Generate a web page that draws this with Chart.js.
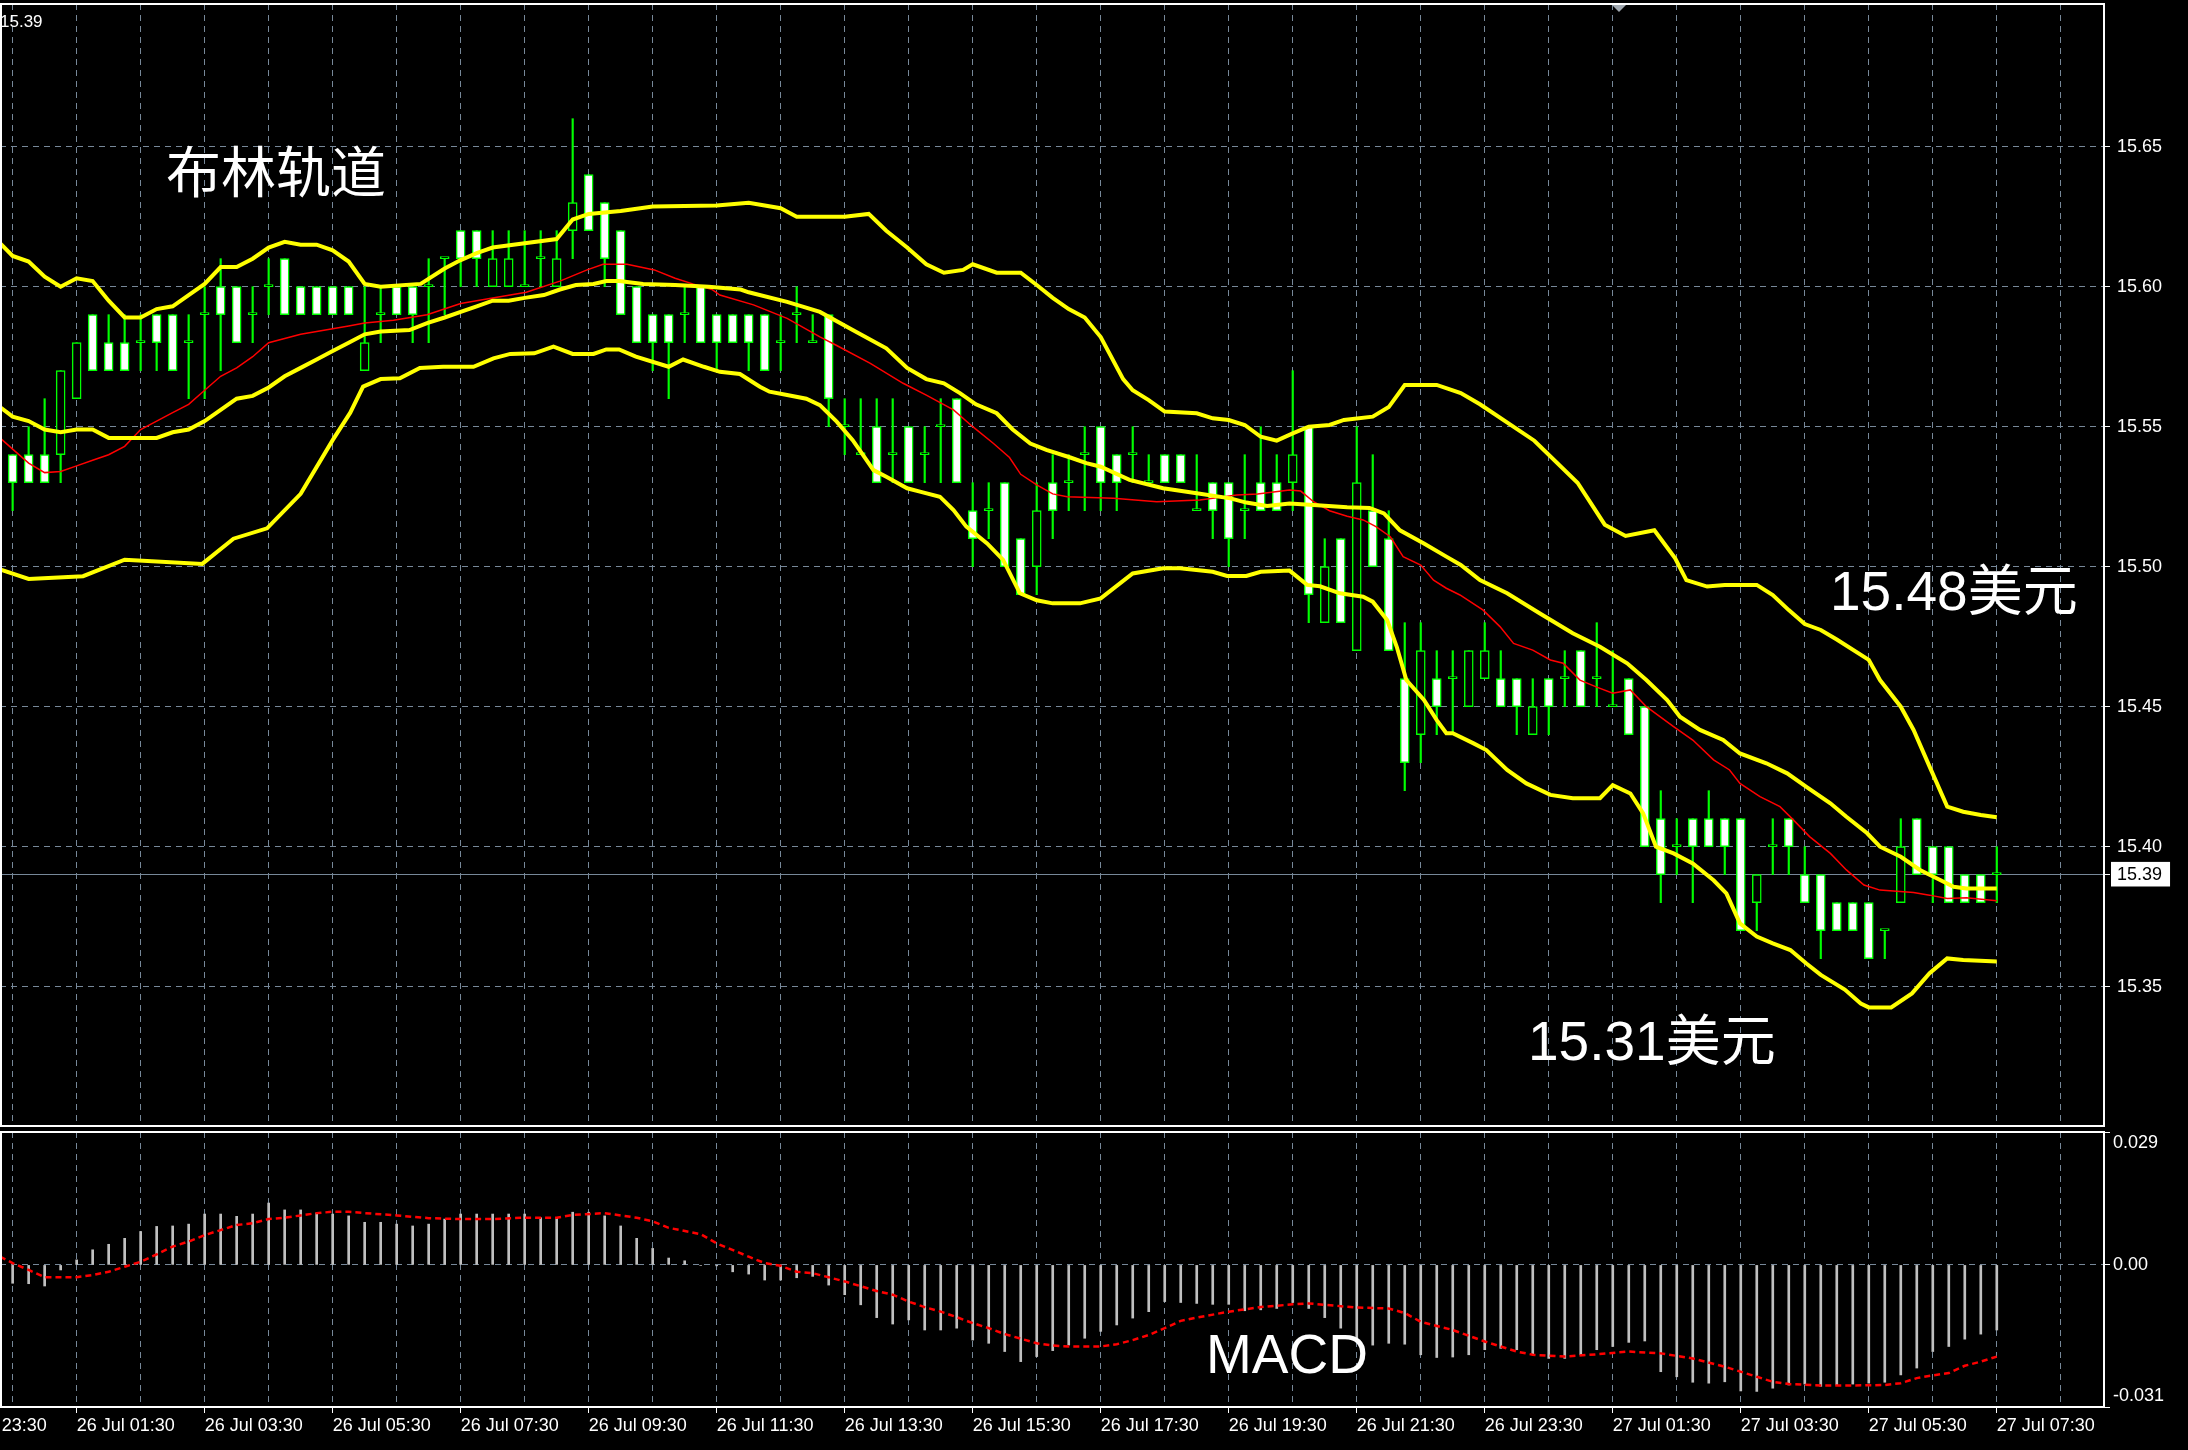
<!DOCTYPE html>
<html>
<head>
<meta charset="utf-8">
<script src="https://cdn.jsdelivr.net/npm/chart.js@4.4.0/dist/chart.umd.min.js"></script>
<style>
  html, body { margin: 0; padding: 0; background: #000; }
  #wrap { position: relative; width: 2188px; height: 1450px; overflow: hidden; background: #000; }
  #price-canvas { position: absolute; left: 0; top: 0; }
  #macd-canvas { position: absolute; left: 0; top: 1126px; }
</style>
</head>
<body>
<div id="wrap">
  <canvas id="price-canvas" width="2188" height="1130"></canvas>
  <canvas id="macd-canvas" width="2188" height="324"></canvas>
</div>
<script>
    // 15-minute bars, bar 0 = 26 Jul 00:30. First entry is the half-hidden bar at -1.
    const firstBar = -1;
    const opens = [
        15.53, 15.54, 15.54, 15.54, 15.54, 15.56, 15.59, 15.58, 15.58, 15.58,
        15.59, 15.59, 15.58, 15.59, 15.60, 15.60, 15.59, 15.60, 15.61, 15.60,
        15.60, 15.60, 15.60, 15.57, 15.59, 15.60, 15.60, 15.60, 15.61, 15.62,
        15.62, 15.60, 15.60, 15.60, 15.61, 15.60, 15.62, 15.64, 15.63, 15.62,
        15.60, 15.59, 15.59, 15.59, 15.60, 15.59, 15.59, 15.59, 15.59, 15.58,
        15.59, 15.58, 15.59, 15.55, 15.54, 15.55, 15.54, 15.55, 15.54, 15.55,
        15.56, 15.52, 15.52, 15.53, 15.51, 15.50, 15.53, 15.53, 15.54, 15.55,
        15.54, 15.54, 15.53, 15.54, 15.54, 15.52, 15.53, 15.53, 15.52, 15.53,
        15.53, 15.53, 15.55, 15.48, 15.51, 15.47, 15.52, 15.51, 15.46, 15.44,
        15.46, 15.46, 15.45, 15.46, 15.46, 15.46, 15.44, 15.46, 15.46, 15.47,
        15.46, 15.45, 15.46, 15.45, 15.41, 15.40, 15.41, 15.41, 15.41, 15.41,
        15.38, 15.40, 15.41, 15.39, 15.39, 15.38, 15.38, 15.38, 15.37, 15.38,
        15.41, 15.40, 15.40, 15.39, 15.39, 15.39
    ];
    const highs = [
        15.53, 15.54, 15.55, 15.56, 15.57, 15.58, 15.59, 15.59, 15.59, 15.59,
        15.59, 15.59, 15.59, 15.60, 15.61, 15.60, 15.60, 15.61, 15.61, 15.60,
        15.60, 15.60, 15.60, 15.60, 15.60, 15.60, 15.60, 15.61, 15.61, 15.62,
        15.62, 15.62, 15.62, 15.62, 15.62, 15.62, 15.66, 15.64, 15.63, 15.62,
        15.60, 15.59, 15.59, 15.60, 15.60, 15.59, 15.59, 15.59, 15.59, 15.59,
        15.60, 15.59, 15.59, 15.56, 15.56, 15.56, 15.56, 15.55, 15.55, 15.56,
        15.56, 15.53, 15.53, 15.53, 15.51, 15.53, 15.54, 15.54, 15.55, 15.55,
        15.54, 15.55, 15.54, 15.54, 15.54, 15.54, 15.53, 15.53, 15.54, 15.55,
        15.54, 15.57, 15.55, 15.51, 15.51, 15.55, 15.54, 15.52, 15.48, 15.48,
        15.47, 15.47, 15.47, 15.48, 15.47, 15.46, 15.46, 15.46, 15.47, 15.47,
        15.48, 15.47, 15.46, 15.45, 15.42, 15.41, 15.41, 15.42, 15.41, 15.41,
        15.39, 15.41, 15.41, 15.40, 15.39, 15.38, 15.38, 15.38, 15.37, 15.41,
        15.41, 15.40, 15.40, 15.39, 15.39, 15.40
    ];
    const lows = [
        15.53, 15.52, 15.53, 15.53, 15.53, 15.56, 15.57, 15.57, 15.57, 15.57,
        15.57, 15.57, 15.56, 15.56, 15.57, 15.58, 15.58, 15.59, 15.59, 15.59,
        15.59, 15.59, 15.59, 15.57, 15.58, 15.59, 15.58, 15.58, 15.59, 15.60,
        15.60, 15.60, 15.60, 15.60, 15.60, 15.60, 15.61, 15.62, 15.60, 15.59,
        15.58, 15.57, 15.56, 15.58, 15.58, 15.57, 15.58, 15.57, 15.57, 15.57,
        15.58, 15.58, 15.55, 15.54, 15.54, 15.53, 15.53, 15.53, 15.53, 15.53,
        15.53, 15.50, 15.51, 15.50, 15.49, 15.49, 15.51, 15.52, 15.52, 15.52,
        15.52, 15.53, 15.53, 15.53, 15.53, 15.52, 15.51, 15.50, 15.51, 15.52,
        15.52, 15.52, 15.48, 15.48, 15.48, 15.47, 15.50, 15.47, 15.42, 15.43,
        15.44, 15.44, 15.45, 15.46, 15.45, 15.44, 15.44, 15.44, 15.45, 15.45,
        15.45, 15.45, 15.44, 15.40, 15.38, 15.39, 15.38, 15.40, 15.39, 15.37,
        15.37, 15.39, 15.39, 15.38, 15.36, 15.37, 15.37, 15.36, 15.36, 15.38,
        15.39, 15.38, 15.38, 15.38, 15.38, 15.38
    ];
    const closes = [
        15.53, 15.53, 15.53, 15.53, 15.57, 15.58, 15.57, 15.57, 15.57, 15.58,
        15.58, 15.57, 15.58, 15.59, 15.59, 15.58, 15.59, 15.60, 15.59, 15.59,
        15.59, 15.59, 15.59, 15.58, 15.59, 15.59, 15.59, 15.60, 15.61, 15.61,
        15.61, 15.61, 15.61, 15.60, 15.61, 15.61, 15.63, 15.62, 15.61, 15.59,
        15.58, 15.58, 15.58, 15.59, 15.58, 15.58, 15.58, 15.58, 15.57, 15.58,
        15.59, 15.58, 15.56, 15.55, 15.54, 15.53, 15.54, 15.53, 15.54, 15.55,
        15.53, 15.51, 15.52, 15.50, 15.49, 15.52, 15.52, 15.53, 15.54, 15.53,
        15.53, 15.54, 15.53, 15.53, 15.53, 15.52, 15.52, 15.51, 15.52, 15.52,
        15.52, 15.54, 15.49, 15.50, 15.48, 15.53, 15.50, 15.47, 15.43, 15.47,
        15.45, 15.46, 15.47, 15.47, 15.45, 15.45, 15.45, 15.45, 15.46, 15.45,
        15.46, 15.45, 15.44, 15.40, 15.39, 15.40, 15.40, 15.40, 15.40, 15.37,
        15.39, 15.40, 15.40, 15.38, 15.37, 15.37, 15.37, 15.36, 15.37, 15.40,
        15.39, 15.39, 15.38, 15.38, 15.38, 15.39
    ];

    // Bollinger bands and moving average as [bar, price]
    const upperBand = [
        [-0.79, 15.6155], [0, 15.611], [1, 15.609], [2, 15.6036], [3, 15.600], [4, 15.603], [5, 15.602],
        [6, 15.595], [7, 15.589], [8, 15.589], [9, 15.592], [10, 15.593], [11, 15.597], [12, 15.601],
        [13, 15.607], [14, 15.607], [15, 15.610], [16, 15.614], [17, 15.616], [18, 15.615], [19, 15.615],
        [20, 15.613], [21, 15.609], [22, 15.601], [23, 15.600], [25.5, 15.601], [27, 15.6065], [28, 15.6095],
        [29, 15.612], [30, 15.614], [32, 15.6155], [34, 15.617], [35, 15.624], [36, 15.626], [38, 15.627],
        [40, 15.6286], [44, 15.629], [46, 15.630], [48, 15.628], [49, 15.625], [52, 15.625], [53.5, 15.626],
        [54.6, 15.620], [55.9, 15.614], [57.1, 15.608], [58.2, 15.605], [59.4, 15.606], [60, 15.608],
        [61.5, 15.605], [63, 15.605], [64, 15.6006], [65, 15.596], [66, 15.592], [67, 15.589], [68, 15.582],
        [69.4, 15.567], [70, 15.563], [71, 15.5595], [72, 15.5554], [74, 15.5548], [75, 15.553], [76, 15.5524],
        [77, 15.5506], [78, 15.5464], [79, 15.545], [80, 15.5476], [81, 15.550], [82.3, 15.5506], [83.2, 15.5524],
        [85, 15.5536], [86, 15.557], [87, 15.5649], [89, 15.5649], [90.5, 15.562], [91.7, 15.558], [95.1, 15.545],
        [97.8, 15.530], [99.5, 15.515], [100.8, 15.511], [102.6, 15.513], [103.9, 15.503], [104.6, 15.4952],
        [105.9, 15.4929], [107, 15.4935], [109, 15.4935], [110, 15.4899], [111, 15.4845], [112, 15.4795],
        [113, 15.4774], [114, 15.474], [116, 15.4667], [116.7, 15.4595], [118, 15.450], [118.8, 15.4417],
        [119.8, 15.4286], [120.9, 15.4143], [121.9, 15.4125], [123, 15.4113], [124, 15.4105]
    ];
    const middleBand = [
        [-0.79, 15.557], [0, 15.5536], [1, 15.552], [2, 15.549], [3, 15.548], [4, 15.549], [5, 15.549],
        [6, 15.546], [9, 15.546], [10, 15.548], [11, 15.549], [12, 15.552], [13, 15.556], [14, 15.560],
        [15, 15.561], [16, 15.564], [17, 15.568], [18, 15.571], [19, 15.574], [20, 15.577], [21, 15.580],
        [22, 15.583], [23, 15.584], [24.8, 15.5845], [25.9, 15.587], [27, 15.589], [28, 15.591], [29, 15.593],
        [30, 15.595], [31, 15.595], [32, 15.596], [33.2, 15.597], [34.2, 15.599], [35.2, 15.6006], [36.3, 15.601],
        [37.1, 15.602], [37.9, 15.602], [39.4, 15.601], [41.4, 15.6006], [43.5, 15.600], [45.5, 15.599],
        [46, 15.598], [48.4, 15.5946], [50.45, 15.591], [52.5, 15.5845], [54.6, 15.578], [55.9, 15.571],
        [57.1, 15.567], [58.2, 15.5655], [59.2, 15.562], [60.2, 15.558], [61.5, 15.5548], [62.5, 15.549],
        [63.6, 15.544], [64.6, 15.5417], [66.1, 15.539], [67.1, 15.537], [68, 15.5357], [69.8, 15.531],
        [71.9, 15.528], [74, 15.5262], [76.1, 15.5244], [77.1, 15.5229], [78.4, 15.5217], [79.8, 15.5226],
        [81.3, 15.522], [83.4, 15.5212], [84.8, 15.521], [85.7, 15.519], [86.7, 15.513], [88.2, 15.5083],
        [89.6, 15.5036], [90.5, 15.5006], [91.7, 15.4952], [93.4, 15.4905], [95.45, 15.4833], [97.5, 15.4762],
        [99.2, 15.4714], [100.9, 15.4655], [102.1, 15.4595], [103.4, 15.4524], [104.2, 15.4464],
        [105.45, 15.4417], [106.9, 15.4381], [107.95, 15.4333], [109.6, 15.4298], [110.9, 15.4262],
        [112.1, 15.4214], [113.6, 15.4155], [114.6, 15.4107], [115.9, 15.4048], [116.7, 15.400],
        [118, 15.3964], [119.2, 15.3917], [120.46, 15.3881], [121.3, 15.3857], [122.1, 15.3851], [124, 15.3851]
    ];
    const lowerBand = [
        [-0.79, 15.499], [1, 15.4956], [4.4, 15.4966], [7, 15.5025], [11.85, 15.501], [13.8, 15.510],
        [15.9, 15.5137], [18, 15.526], [20, 15.5452], [21.1, 15.555], [21.9, 15.5643], [23, 15.567],
        [24.2, 15.5673], [25.45, 15.571], [26.9, 15.5714], [28.8, 15.5714], [30.05, 15.5744], [31.1, 15.576],
        [32.6, 15.5762], [33.8, 15.5786], [35, 15.576], [36.3, 15.576], [37.1, 15.5776], [37.9, 15.5776],
        [38.95, 15.575], [41, 15.5714], [41.9, 15.574], [43.2, 15.5714], [44.2, 15.5696], [45.45, 15.5688],
        [46.7, 15.5643], [47.3, 15.5625], [48.4, 15.5613], [49.6, 15.560], [50.45, 15.5577], [51.5, 15.5518],
        [52.5, 15.5452], [53.8, 15.5345], [54.6, 15.5321], [55.9, 15.528], [56.7, 15.5268], [57.95, 15.525],
        [58.8, 15.5202], [59.6, 15.5143], [60.9, 15.5083], [61.9, 15.5024], [62.95, 15.4905], [64, 15.488],
        [65, 15.4869], [66.7, 15.4869], [68, 15.4887], [70, 15.4976], [71.9, 15.4994], [72.95, 15.4994],
        [75, 15.4982], [75.9, 15.4967], [77.1, 15.4967], [78, 15.4982], [79.8, 15.4986], [80.9, 15.4935],
        [81.7, 15.493], [82.95, 15.4905], [84.4, 15.4893], [85, 15.4875], [85.9, 15.481], [86.5, 15.4714],
        [87.1, 15.4595], [88.2, 15.4524], [89, 15.4452], [89.6, 15.4405], [90, 15.4405], [91.3, 15.4369],
        [92.1, 15.4345], [93.4, 15.4274], [94.6, 15.4226], [96.1, 15.4185], [97.5, 15.4173], [99.2, 15.4173],
        [100, 15.422], [101.1, 15.419], [101.9, 15.4119], [102.7, 15.400], [103.8, 15.3976], [105, 15.394],
        [106.3, 15.388], [107.1, 15.3833], [107.95, 15.3726], [109, 15.3679], [110, 15.3655], [111.1, 15.3631],
        [112.1, 15.3583], [113, 15.3542], [114.5, 15.349], [115.5, 15.344], [116, 15.3426], [117.4, 15.3426],
        [118.7, 15.3476], [119.8, 15.3548], [120.9, 15.3601], [121.9, 15.3595], [124, 15.359]
    ];
    const movingAvg = [
        [-0.79, 15.546], [0, 15.542], [1, 15.537], [2, 15.5336], [3, 15.534], [4, 15.536], [5, 15.538],
        [6, 15.540], [7, 15.543], [8, 15.549], [9, 15.552], [10, 15.555], [11, 15.558], [12, 15.563],
        [13, 15.568], [14, 15.571], [15, 15.575], [16, 15.580], [17, 15.5815], [18, 15.583], [19, 15.584],
        [20, 15.585], [21, 15.586], [22, 15.587], [23.8, 15.588], [25.9, 15.590], [28, 15.594], [30, 15.596],
        [32.1, 15.598], [34.2, 15.602], [35.9, 15.606], [36.9, 15.608], [38.4, 15.608], [40.1, 15.606],
        [41.4, 15.603], [42.5, 15.601], [43.7, 15.599], [44.2, 15.597], [46.3, 15.5935], [48.4, 15.5887],
        [50.45, 15.5821], [51.5, 15.579], [53.6, 15.5726], [55.65, 15.5655], [57.1, 15.5613], [58.8, 15.556],
        [60, 15.550], [61.3, 15.544], [62.3, 15.539], [63, 15.533], [64, 15.5292], [65, 15.526], [65.9, 15.525],
        [68.8, 15.5244], [71.5, 15.5232], [74.2, 15.5238], [76.5, 15.5256], [77.8, 15.526], [79.8, 15.5274],
        [80.5, 15.527], [81.3, 15.5232], [82.3, 15.520], [83.4, 15.518], [84.4, 15.5167], [85.2, 15.5143],
        [86.1, 15.5107], [86.9, 15.5036], [88, 15.5006], [88.8, 15.4952], [89.6, 15.4923], [90.45, 15.4899],
        [91.9, 15.4845], [92.95, 15.4786], [93.8, 15.4726], [95, 15.4702], [96.1, 15.4667], [96.9, 15.4655],
        [97.95, 15.4595], [99, 15.457], [100, 15.4548], [101.1, 15.456], [102.1, 15.450], [103.8, 15.4429],
        [105, 15.4381], [106.3, 15.431], [107.3, 15.4274], [107.95, 15.4226], [109.2, 15.4179], [110.45, 15.4143],
        [111.3, 15.4095], [112.3, 15.4036], [113.6, 15.3976], [114.6, 15.3917], [115.7, 15.3863], [116.7, 15.3845],
        [118.8, 15.3836], [119.8, 15.3827], [120.9, 15.3815], [122.1, 15.3818], [124, 15.3807]
    ];

    // MACD main (histogram) for bars 0..124, and its signal line as [bar, value]
    const macdHist = [
        -0.0040, -0.0041, -0.0046, -0.0011, 0.0011, 0.0033, 0.0045, 0.0058, 0.0073, 0.0084,
        0.0085, 0.0089, 0.0111, 0.0111, 0.0106, 0.0111, 0.0135, 0.0120, 0.0120, 0.0113,
        0.0111, 0.0107, 0.0093, 0.0093, 0.0089, 0.0085, 0.0089, 0.0100, 0.0111, 0.0111,
        0.0111, 0.0111, 0.0111, 0.0103, 0.0103, 0.0115, 0.0115, 0.0107, 0.0085, 0.0058,
        0.0036, 0.0015, 0.0009, -0.0001, -0.0002, -0.0015, -0.0020, -0.0033, -0.0033, -0.0028,
        -0.0025, -0.0044, -0.0065, -0.0087, -0.0115, -0.0129, -0.0120, -0.0142, -0.0142, -0.0138,
        -0.0164, -0.0171, -0.0189, -0.0211, -0.0200, -0.0187, -0.0175, -0.0160, -0.0145, -0.0131,
        -0.0116, -0.0102, -0.0080, -0.0082, -0.0084, -0.0086, -0.0086, -0.0100, -0.0098, -0.0095,
        -0.0082, -0.0095, -0.0115, -0.0138, -0.0164, -0.0175, -0.0171, -0.0173, -0.0196, -0.0202,
        -0.0201, -0.0196, -0.0185, -0.0182, -0.0185, -0.0196, -0.0204, -0.0204, -0.0196, -0.0185,
        -0.0178, -0.0169, -0.0166, -0.0233, -0.0244, -0.0256, -0.0258, -0.0255, -0.0275, -0.0276,
        -0.0269, -0.0262, -0.0260, -0.0265, -0.0262, -0.0260, -0.0258, -0.0256, -0.0240, -0.0225,
        -0.0189, -0.0178, -0.0162, -0.0151, -0.0142
    ];
    const macdSignal = [
        [-0.79, 0.0018], [0, 0.0004], [1, -0.0011], [2, -0.0027], [4, -0.0027], [5, -0.0022], [6, -0.0015],
        [7, -0.0004], [8, 0.0007], [9, 0.0023], [10, 0.0040], [11, 0.0051], [12, 0.0065], [13, 0.0076],
        [14, 0.0087], [15, 0.0091], [16, 0.0100], [17, 0.0103], [18, 0.0108], [19, 0.0113], [20, 0.0116],
        [21, 0.0116], [22, 0.0113], [24, 0.0108], [26, 0.0102], [28, 0.0100], [30, 0.0100], [32, 0.0103],
        [34, 0.0103], [35, 0.0109], [37, 0.0113], [39, 0.0103], [40, 0.0095], [41, 0.0081], [43, 0.0067],
        [44, 0.0047], [46, 0.0018], [47, 0.0004], [48, -0.0002], [49, -0.0015], [50, -0.0018], [51, -0.0027],
        [52, -0.0036], [54, -0.0057], [55, -0.0065], [56, -0.0080], [57, -0.0092], [58, -0.0102], [59, -0.0114],
        [60, -0.0127], [61, -0.0138], [62, -0.0151], [63, -0.0161], [64, -0.0171], [65, -0.0176], [66, -0.0178],
        [68, -0.0178], [69, -0.0173], [70, -0.0164], [71, -0.0153], [72, -0.0138], [73, -0.0122], [74, -0.0115],
        [76, -0.0102], [78, -0.0092], [80, -0.0086], [81, -0.0084], [82, -0.0087], [84, -0.0093], [86, -0.0095],
        [87, -0.0105], [88, -0.0124], [90, -0.0142], [92, -0.0167], [94, -0.0189], [95, -0.0196], [97, -0.0200],
        [99, -0.0195], [101, -0.0189], [103, -0.0193], [105, -0.0204], [107, -0.0222], [109, -0.0244],
        [110, -0.0255], [111, -0.0260], [113, -0.0263], [115, -0.0263], [117, -0.0262], [118, -0.0258],
        [119, -0.0247], [120, -0.0241], [121, -0.0236], [122, -0.0220], [123, -0.0211], [124, -0.0200]
    ];

    // axis ticks and labels
    const priceTicks = [15.35, 15.39, 15.40, 15.45, 15.50, 15.55, 15.60, 15.65];
    const lastPrice = 15.39;
    const macdTicks = [-0.031, 0, 0.029];
    const macdTickLabels = [['-0.031', ''], '0.00', ['', '0.029']];
    const timeTickBars = [-4, 4, 12, 20, 28, 36, 44, 52, 60, 68, 76, 84, 92, 100, 108, 116, 124];
    const timeLabels = [
        '25 Jul 23:30', '26 Jul 01:30', '26 Jul 03:30', '26 Jul 05:30', '26 Jul 07:30', '26 Jul 09:30',
        '26 Jul 11:30', '26 Jul 13:30', '26 Jul 15:30', '26 Jul 17:30', '26 Jul 19:30', '26 Jul 21:30',
        '26 Jul 23:30', '27 Jul 01:30', '27 Jul 03:30', '27 Jul 05:30', '27 Jul 07:30'
    ];

    const X_MIN = -0.79, X_MAX = 130.7;
    const PRICE_MIN = 15.30025, PRICE_MAX = 15.70096;
    const GRID = '#778899';
    const LIME = '#00ff00';
    const AXIS_FONT = { family: '"Liberation Sans", Arial, sans-serif', size: 18 };

    // hourly grid lines (every 4 bars)
    let hourBars = [];
    for (let b = 0; b <= 128; b += 4) hourBars.push(b);

    let wickData = [], bodyData = [], bodyFill = [];
    for (let i = 0; i < opens.length; i++) {
        let x = firstBar + i;
        wickData.push({ x: x, y: [lows[i], highs[i]] });
        bodyData.push({ x: x, y: [opens[i], closes[i]] });
        bodyFill.push(closes[i] < opens[i] ? '#ffffff' : '#000000');
    }
    const toXY = arr => arr.map(p => ({ x: p[0], y: p[1] }));

    // keep the plot area flush with the panel edges
    const noPadY = s => { s.width = 84; s.paddingTop = 0; s.paddingBottom = 0; };

    const priceDecor = {
        id: 'priceDecor',
        afterDraw(chart) {
            const c = chart.ctx, a = chart.chartArea;
            c.save();
            c.strokeStyle = '#ffffff';
            c.lineWidth = 2;
            c.strokeRect(a.left + 1, a.top, a.right - a.left - 1, a.bottom - a.top);
            c.fillStyle = '#a0a8b0';
            c.beginPath();
            c.moveTo(1612, 5); c.lineTo(1626, 5); c.lineTo(1619, 12);
            c.closePath(); c.fill();
            c.fillStyle = '#ffffff';
            c.font = '17px "Liberation Sans", Arial, sans-serif';
            c.textBaseline = 'middle';
            c.fillText('15.39', 0, 22);
            c.font = '55px "Noto Sans CJK SC", sans-serif';
            c.fillText('布林轨道', 166, 171);
            c.textBaseline = 'alphabetic';
            c.font = '55px "Liberation Sans", "Noto Sans CJK SC", sans-serif';
            c.fillText('15.48美元', 1830, 610);
            c.fillText('15.31美元', 1528, 1060);
            c.restore();
        }
    };

    const macdDecor = {
        id: 'macdDecor',
        afterDraw(chart) {
            const c = chart.ctx, a = chart.chartArea;
            c.save();
            c.strokeStyle = '#ffffff';
            c.lineWidth = 2;
            c.strokeRect(a.left + 1, a.top, a.right - a.left - 1, a.bottom - a.top);
            c.fillStyle = '#ffffff';
            c.font = '55px "Liberation Sans", Arial, sans-serif';
            c.fillText('MACD', 1206, 247);
            c.restore();
        }
    };

    new Chart(document.getElementById('price-canvas'), {
        type: 'bar',
        data: {
            datasets: [
                { type: 'line', data: toXY(upperBand), borderColor: '#ffff00', borderWidth: 4,
                  pointRadius: 0, tension: 0, order: 0 },
                { type: 'line', data: toXY(middleBand), borderColor: '#ffff00', borderWidth: 4,
                  pointRadius: 0, tension: 0, order: 0 },
                { type: 'line', data: toXY(lowerBand), borderColor: '#ffff00', borderWidth: 4,
                  pointRadius: 0, tension: 0, order: 0 },
                { type: 'line', data: toXY(movingAvg), borderColor: '#ff0000', borderWidth: 1.5,
                  pointRadius: 0, tension: 0, order: 0 },
                { data: bodyData, backgroundColor: bodyFill, borderColor: LIME, borderWidth: 1.5,
                  borderSkipped: false, barThickness: 9, minBarLength: 2, grouped: false, order: 1 },
                { data: wickData, backgroundColor: LIME, borderWidth: 0,
                  barThickness: 1.5, grouped: false, order: 2 }
            ]
        },
        options: {
            responsive: false,
            animation: false,
            devicePixelRatio: 1,
            layout: { padding: { top: 4, bottom: 4, left: 0, right: 0 } },
            plugins: { legend: { display: false }, tooltip: { enabled: false } },
            scales: {
                x: {
                    type: 'linear', min: X_MIN, max: X_MAX, offset: false,
                    afterFit: s => { s.height = 0; s.paddingLeft = 0; s.paddingRight = 0; },
                    afterBuildTicks: s => { s.ticks = hourBars.map(v => ({ value: v })); },
                    ticks: { display: false },
                    grid: { color: GRID, drawTicks: false, offset: false },
                    border: { display: false, dash: [6, 5] }
                },
                y: {
                    position: 'right', min: PRICE_MIN, max: PRICE_MAX,
                    afterFit: noPadY,
                    afterBuildTicks: s => { s.ticks = priceTicks.map(v => ({ value: v })); },
                    ticks: {
                        autoSkip: false, padding: 7, font: AXIS_FONT,
                        color: ctx => ctx.tick.value === lastPrice ? '#000000' : '#ffffff',
                        callback: v => v.toFixed(2),
                        showLabelBackdrop: ctx => ctx.tick.value === lastPrice,
                        backdropColor: '#ffffff',
                        backdropPadding: { left: 6, right: 8, top: 2, bottom: 1 }
                    },
                    grid: { color: GRID, tickLength: 6, tickColor: '#ffffff' },
                    border: { display: false, dash: ctx => (ctx.tick && ctx.tick.value === lastPrice) ? [] : [6, 5] }
                }
            }
        },
        plugins: [priceDecor]
    });

    new Chart(document.getElementById('macd-canvas'), {
        type: 'bar',
        data: {
            datasets: [
                { type: 'line', data: toXY(macdSignal), borderColor: '#ff0000', borderWidth: 2.5,
                  borderDash: [6, 4], pointRadius: 0, tension: 0, order: 0 },
                { data: macdHist.map((v, i) => ({ x: i, y: v })), backgroundColor: '#c0c0c0',
                  borderWidth: 0, barThickness: 2, grouped: false, order: 1 }
            ]
        },
        options: {
            responsive: false,
            animation: false,
            devicePixelRatio: 1,
            layout: { padding: { top: 6, bottom: 0, left: 0, right: 0 } },
            plugins: { legend: { display: false }, tooltip: { enabled: false } },
            scales: {
                x: {
                    type: 'linear', min: X_MIN, max: X_MAX, offset: false,
                    afterFit: s => { s.height = 43; s.paddingLeft = 0; s.paddingRight = 0; },
                    afterBuildTicks: s => { s.ticks = [-4].concat(hourBars).map(v => ({ value: v })); },
                    ticks: {
                        autoSkip: false, maxRotation: 0, minRotation: 0, align: 'start',
                        padding: 2, color: '#ffffff', font: AXIS_FONT,
                        callback: v => {
                            let k = timeTickBars.indexOf(v);
                            return k >= 0 ? timeLabels[k] : '';
                        }
                    },
                    grid: {
                        color: GRID, offset: false, tickLength: 6,
                        tickColor: ctx => timeTickBars.includes(ctx.tick.value) ? '#ffffff' : 'rgba(0,0,0,0)'
                    },
                    border: { display: false, dash: [6, 5] }
                },
                y: {
                    position: 'right', min: -0.031, max: 0.029,
                    afterFit: noPadY,
                    afterBuildTicks: s => { s.ticks = macdTicks.map(v => ({ value: v })); },
                    ticks: {
                        autoSkip: false, padding: 3, color: '#ffffff', font: AXIS_FONT,
                        callback: (v, i) => macdTickLabels[i]
                    },
                    grid: {
                        color: ctx => ctx.tick && ctx.tick.value === 0 ? GRID : 'rgba(0,0,0,0)',
                        tickLength: 6, tickColor: '#ffffff'
                    },
                    border: { display: false, dash: [6, 5] }
                }
            }
        },
        plugins: [macdDecor]
    });
</script>
</body>
</html>
